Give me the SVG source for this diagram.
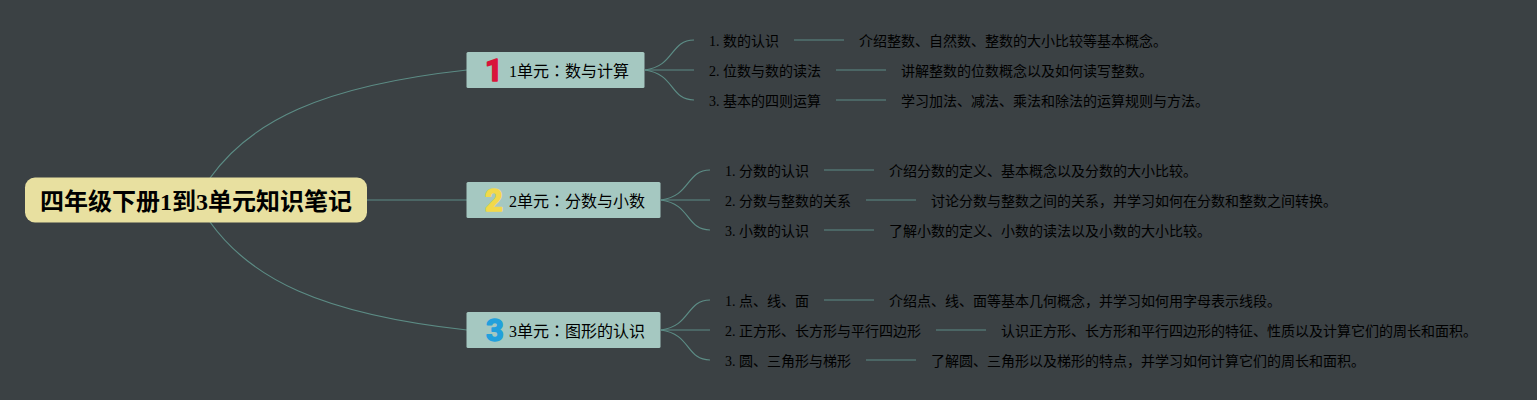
<svg xmlns="http://www.w3.org/2000/svg" width="1537" height="400" viewBox="0 0 1537 400">
<style>
text{font-family:"Liberation Serif","Noto Sans CJK SC",serif;fill:#000}
.t1{font-size:14px}
.t2{font-size:16px}
.col{font-family:"Noto Sans CJK JP",sans-serif}
.root{font-size:24px;font-weight:700;fill:#000}
.c{fill:none;stroke:#5c8c85;stroke-width:1.2}
.box{fill:#a5c8c1}
.ic{font-family:Roboto,sans-serif;font-weight:700;font-size:31px;text-anchor:middle;stroke-width:1.5;stroke-linejoin:round}
.r{fill:#d9143a;stroke:#d9143a}
.y{fill:#f2d94a;stroke:#f2d94a}
.b{fill:#22a0dc;stroke:#22a0dc}
</style>
<rect width="1537" height="400" fill="#3b4144"/>
<g id="connectors">
<path class="c" d="M210 178C250 122 320 86 467 70"/>
<path class="c" d="M367 200H467"/>
<path class="c" d="M210 222C250 278 320 314 467 330"/>
<path class="c" d="M645 70C675 66 670 40 694 40"/><path class="c" d="M645 70H694"/><path class="c" d="M645 70C675 74 670 100 694 100"/>
<path class="c" d="M661 200C691 196 686 170 710 170"/><path class="c" d="M661 200H710"/><path class="c" d="M661 200C691 204 686 230 710 230"/>
<path class="c" d="M661 330C691 326 686 300 710 300"/><path class="c" d="M661 330H710"/><path class="c" d="M661 330C691 334 686 360 710 360"/>
<path class="c" d="M794 40H844M836 70H886M836 100H886M824 170H874M866 200H916M824 230H874M824 300H874M936 330H986M866 360H916"/>
</g>
<g id="root"><rect x="25" y="177.500" width="342" height="45" rx="10" fill="#e8e0a0"/><text class="root" x="40" y="210">四年级下册1到3单元知识笔记</text></g>
<g id="n1"><rect class="box" x="466.500" y="52" width="178" height="36" rx="1.500"/><text class="ic r" x="494" y="81">1</text><text class="t2" x="509" y="77">1单元<tspan class="col">：</tspan>数与计算</text></g>
<g id="n2"><rect class="box" x="466.500" y="182" width="194" height="36" rx="1.500"/><text class="ic y" x="494" y="211" >2</text><text class="t2" x="509" y="207">2单元<tspan class="col">：</tspan>分数与小数</text></g>
<g id="n3"><rect class="box" x="466.500" y="312" width="194" height="36" rx="1.500"/><text class="ic b" x="495" y="341">3</text><text class="t2" x="509" y="337">3单元<tspan class="col">：</tspan>图形的认识</text></g>
<g id="a1"><text class="t1" x="709" y="46">1. 数的认识</text></g>
<g id="a1d"><text class="t1" x="859" y="46">介绍整数、自然数、整数的大小比较等基本概念。</text></g>
<g id="a2"><text class="t1" x="709" y="76">2. 位数与数的读法</text></g>
<g id="a2d"><text class="t1" x="901" y="76">讲解整数的位数概念以及如何读写整数。</text></g>
<g id="a3"><text class="t1" x="709" y="106">3. 基本的四则运算</text></g>
<g id="a3d"><text class="t1" x="901" y="106">学习加法、减法、乘法和除法的运算规则与方法。</text></g>
<g id="b1"><text class="t1" x="725" y="176">1. 分数的认识</text></g>
<g id="b1d"><text class="t1" x="889" y="176">介绍分数的定义、基本概念以及分数的大小比较。</text></g>
<g id="b2"><text class="t1" x="725" y="206">2. 分数与整数的关系</text></g>
<g id="b2d"><text class="t1" x="931" y="206">讨论分数与整数之间的关系，并学习如何在分数和整数之间转换。</text></g>
<g id="b3"><text class="t1" x="725" y="236">3. 小数的认识</text></g>
<g id="b3d"><text class="t1" x="889" y="236">了解小数的定义、小数的读法以及小数的大小比较。</text></g>
<g id="c1"><text class="t1" x="725" y="306">1. 点、线、面</text></g>
<g id="c1d"><text class="t1" x="889" y="306">介绍点、线、面等基本几何概念，并学习如何用字母表示线段。</text></g>
<g id="c2"><text class="t1" x="725" y="336">2. 正方形、长方形与平行四边形</text></g>
<g id="c2d"><text class="t1" x="1001" y="336">认识正方形、长方形和平行四边形的特征、性质以及计算它们的周长和面积。</text></g>
<g id="c3"><text class="t1" x="725" y="366">3. 圆、三角形与梯形</text></g>
<g id="c3d"><text class="t1" x="931" y="366">了解圆、三角形以及梯形的特点，并学习如何计算它们的周长和面积。</text></g>
</svg>
